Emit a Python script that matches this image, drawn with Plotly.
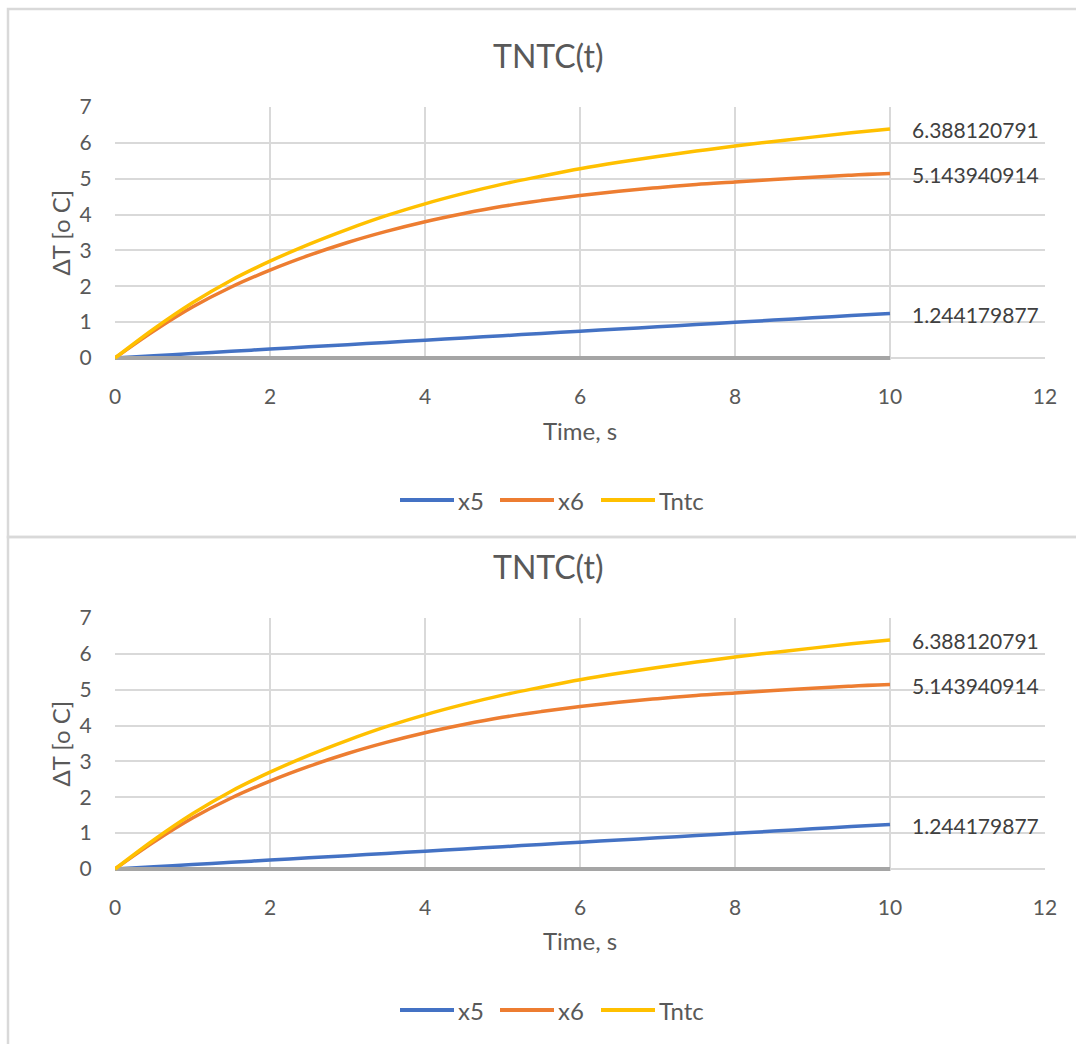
import plotly.graph_objects as go

# Time samples (s)
t = [0, 0.5, 1, 1.5, 2, 2.5, 3, 3.5, 4, 4.5, 5, 5.5, 6, 6.5, 7, 7.5, 8, 8.5, 9, 9.5, 10]

# Temperature rise components (°C)
x5 = [0, 0.062, 0.124, 0.187, 0.249, 0.311, 0.373, 0.435, 0.498, 0.560, 0.622,
      0.684, 0.747, 0.809, 0.871, 0.933, 0.995, 1.058, 1.120, 1.182, 1.244179877]
x6 = [0, 0.75, 1.42, 1.98, 2.45, 2.86, 3.22, 3.53, 3.80, 4.03, 4.23,
      4.39, 4.53, 4.65, 4.75, 4.84, 4.91, 4.98, 5.04, 5.10, 5.143940914]
tntc = [0, 0.81, 1.54, 2.17, 2.70, 3.17, 3.59, 3.97, 4.30, 4.59, 4.85,
        5.07, 5.28, 5.46, 5.62, 5.77, 5.91, 6.04, 6.16, 6.28, 6.388120791]
zero = [0] * len(t)

end_labels = ["1.244179877", "5.143940914", "6.388120791"]
legend_names = ["x5", "x6", "Tntc"]

W, H = 1076, 1044
FONT = "Lato, 'Open Sans', sans-serif"
TXT = "#595959"
GRID = "#D9D9D9"

BLUE, ORANGE, GRAY, YELLOW = "#4472C4", "#ED7D31", "#A5A5A5", "#FFC000"

# small negative floor so the baseline series is not half-clipped
Y_MIN, Y_MAX = -0.06, 7


def px(x):
    return x / W


def py(y):
    return (H - y) / H


fig = go.Figure()

# two identical panels: (suffix, px of y=7, px of y=0, title y, xtitle y, legend y)
panels = [
    ("", 107, 358, 55, 430, 500),
    ("2", 618, 869, 566, 940, 1010),
]

# legend swatch start positions (px) for each entry
legend_x = [400, 500, 601]
legend_cols = [BLUE, ORANGE, YELLOW]

annotations = []
shapes = []
for sfx, top, bot, ty, xty, ly in panels:
    xa, ya = "x" + sfx, "y" + sfx
    series = [
        ("x5", x5, BLUE, 3.5),
        ("x6", x6, ORANGE, 3.5),
        ("zero", zero, GRAY, 4),
        ("Tntc", tntc, YELLOW, 3.5),
    ]
    for name, vals, col, wd in series:
        fig.add_trace(go.Scatter(
            x=t, y=vals, mode="lines", name=name,
            line=dict(color=col, width=wd, shape="spline"),
            showlegend=False, xaxis=xa, yaxis=ya,
            hoverinfo="skip",
        ))
    # value labels at the last point of each series
    for vals, lab in zip([x5, x6, tntc], end_labels):
        annotations.append(dict(
            x=t[-1], y=vals[-1], xref=xa, yref=ya, text=lab,
            showarrow=False, xanchor="left", yanchor="middle", xshift=20, yshift=-1,
            font=dict(family=FONT, size=21, color="#404040"),
        ))
    # chart title
    annotations.append(dict(
        x=px(548), y=py(ty), xref="paper", yref="paper", text="TNTC(t)",
        showarrow=False, xanchor="center", yanchor="middle",
        font=dict(family=FONT, size=32, color=TXT),
    ))
    # axis titles
    annotations.append(dict(
        x=px(580), y=py(xty), xref="paper", yref="paper", text="Time, s",
        showarrow=False, xanchor="center", yanchor="middle",
        font=dict(family=FONT, size=24, color=TXT),
    ))
    annotations.append(dict(
        x=px(60), y=py((top + bot) / 2), xref="paper", yref="paper", text="ΔT [o C]",
        showarrow=False, xanchor="center", yanchor="middle", textangle=-90,
        font=dict(family=FONT, size=24, color=TXT),
    ))
    # legend: swatch line + label per series
    for lx, col, nm in zip(legend_x, legend_cols, legend_names):
        shapes.append(dict(
            type="line", xref="paper", yref="paper",
            x0=px(lx), x1=px(lx + 54), y0=py(ly), y1=py(ly),
            line=dict(color=col, width=4),
        ))
        annotations.append(dict(
            x=px(lx + 56), y=py(ly), xref="paper", yref="paper", text=nm,
            showarrow=False, xanchor="left", yanchor="middle",
            font=dict(family=FONT, size=24, color=TXT),
        ))

axis_common = dict(
    showgrid=True, gridcolor=GRID, gridwidth=1.5, zeroline=False,
    showline=False, ticks="outside", tickcolor="rgba(0,0,0,0)", automargin=False,
    tickfont=dict(family=FONT, size=21, color=TXT), fixedrange=True,
)

layout = dict(
    width=W, height=H, margin=dict(l=0, r=0, t=0, b=0, autoexpand=False),
    paper_bgcolor="white", plot_bgcolor="white",
    annotations=annotations,
    showlegend=False,
)

for sfx, top, bot, ty, xty, ly in panels:
    unit = (bot - top) / Y_MAX
    bottom_px = bot - Y_MIN * unit
    dom_x = [px(115), px(1045)]
    dom_y = [py(bottom_px), py(top)]
    layout["xaxis" + sfx] = dict(axis_common, domain=dom_x, range=[0, 12], dtick=2,
                                 tick0=0, ticklen=18, anchor="y" + sfx)
    layout["yaxis" + sfx] = dict(axis_common, domain=dom_y, range=[Y_MIN, Y_MAX], dtick=1,
                                 tick0=0, ticklen=18, anchor="x" + sfx)

# chart-area frames
frame = dict(color=GRID, width=2.5)
shapes.append(dict(type="rect", xref="paper", yref="paper",
                   x0=px(8), x1=px(1080), y0=py(537), y1=py(9), line=frame, layer="below"))
shapes.append(dict(type="rect", xref="paper", yref="paper",
                   x0=px(8), x1=px(1080), y0=py(1050), y1=py(537), line=frame, layer="below"))
layout["shapes"] = shapes

fig.update_layout(**layout)

fig.write_html("out.html")
